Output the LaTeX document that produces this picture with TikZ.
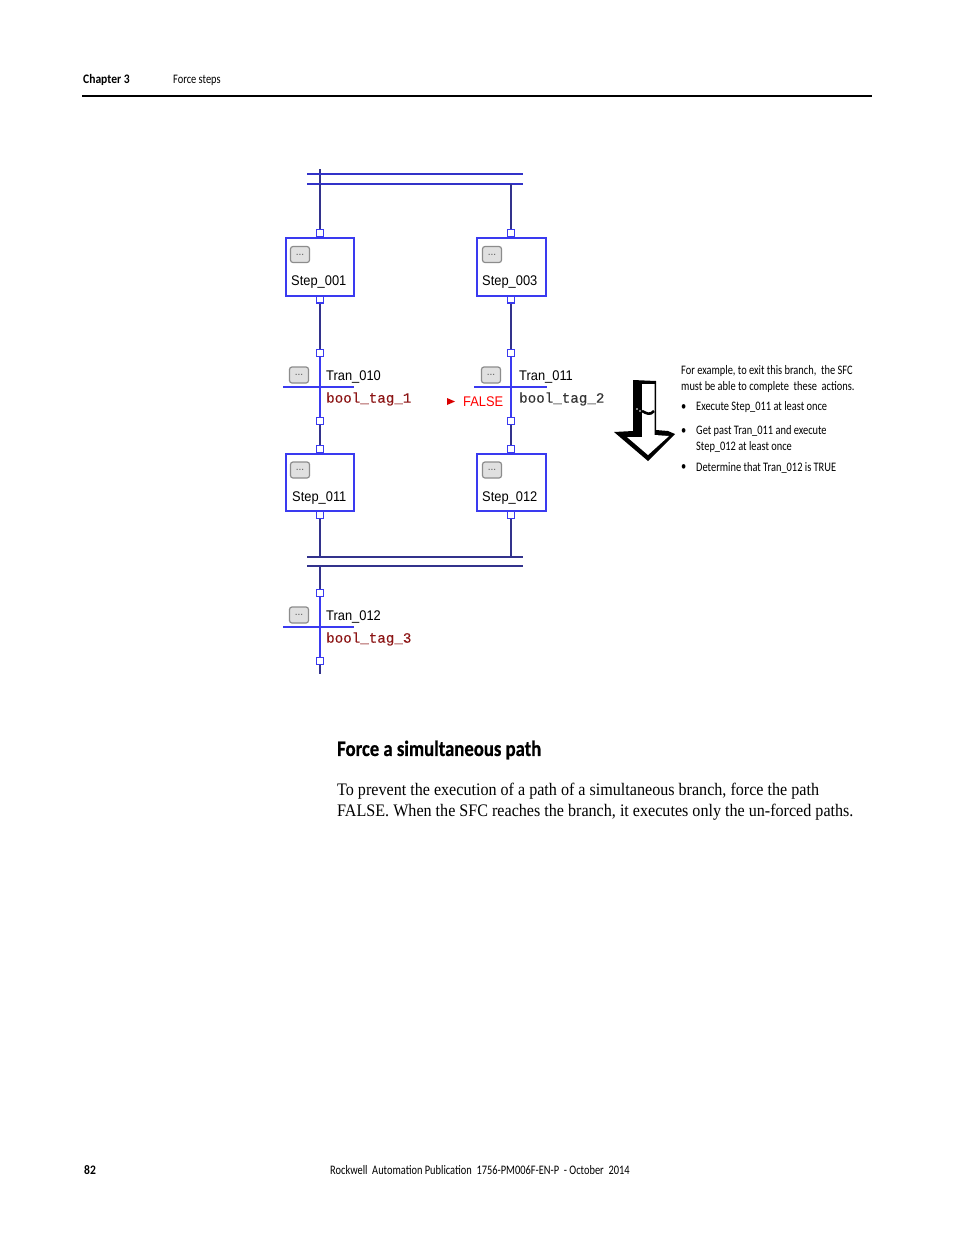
\documentclass[tikz,border=0pt]{standalone}
\usepackage{fontspec}
\setmainfont[FakeStretch=0.915]{Liberation Serif}
\newfontfamily\narrowfont[FakeStretch=0.80]{Carlito}
\newfontfamily\narrowbold[FakeStretch=0.89]{Carlito Bold}
\newfontfamily\headfont[FakeStretch=0.85,FakeBold=0.6]{Carlito Bold}
\newfontfamily\labelfont[FakeStretch=0.92]{Liberation Sans}
\newfontfamily\tagfont[FakeBold=0.2]{Liberation Mono}
\usetikzlibrary{positioning}
\definecolor{sfcblue}{RGB}{58,58,240}
\definecolor{sfcnavy}{RGB}{50,50,140}
\definecolor{barblue}{RGB}{50,50,200}
\definecolor{tagred}{RGB}{140,20,20}
\begin{document}
\begin{tikzpicture}[x=1pt, y=-1pt,
    stepbox/.style={draw=sfcblue, fill=white, line width=1.6pt, minimum width=68.4pt, anchor=north west, inner sep=0pt},
    portbox/.style={draw=sfcblue, fill=white, line width=1.4pt, minimum width=7pt, minimum height=7pt, inner sep=0pt},
    btnbox/.style={draw=black!45, fill=black!12, rounded corners=2.5pt, line width=1.2pt, minimum width=19pt, minimum height=16pt, inner sep=0pt, font=\labelfont\fontsize{11}{11}\selectfont, text=black!65},
    steptext/.style={font=\labelfont\fontsize{14}{14}\selectfont, inner sep=0pt, anchor=west},
    tagtext/.style={font=\tagfont\fontsize{14.2}{14.2}\selectfont, text=tagred, inner sep=0pt, anchor=west},
    sidetext/.style={font=\narrowfont\fontsize{13}{15}\selectfont, inner sep=0pt, anchor=west},
    bodytext/.style={font=\fontsize{17.6}{21}\selectfont, inner sep=0pt, anchor=west},
    bar/.style={draw=sfcblue, line width=1.4pt},
    barnavy/.style={draw=sfcnavy, line width=1.4pt},
    wire/.style={draw=sfcnavy, line width=1.4pt},
    wirelit/.style={draw=sfcblue, line width=1.4pt}
]
\useasboundingbox (0,0) rectangle (954,1235);
\fill[white] (0,0) rectangle (954,1235);

% header
\node[font=\narrowbold\fontsize{13}{13}\selectfont, inner sep=0pt, anchor=west] (chap) at (83,79.5) {Chapter 3};
\node[sidetext] (sect) at (173,80) {Force steps};
\coordinate (ruleL) at (82,96);
\coordinate (ruleR) at (872,96);
\draw[line width=1.4pt] (ruleL) -- (ruleR);

% divergence bars
\coordinate (topL) at (320,169);
\coordinate (b1L) at (307,174);
\coordinate (b1R) at (523,174);
\coordinate (b2L) at (307,184);
\coordinate (b2R) at (523,184);
\coordinate (j1) at (320,184);
\coordinate (j2) at (511,184);
\draw[wire] (topL) -- (j1);
\draw[barnavy, draw=barblue] (b1L) -- (b1R);
\draw[barnavy, draw=barblue] (b2L) -- (b2R);

% steps
\node[stepbox, minimum height=58.4pt] (s1) at (285,237) {};
\node[stepbox, minimum height=58.4pt, minimum width=69.4pt] (s3) at (476,237) {};
\node[stepbox, minimum height=57.4pt] (s11) at (285,453) {};
\node[stepbox, minimum height=57.4pt, minimum width=69.4pt] (s12) at (476,453) {};
\node[steptext] (s1t) at (291,282) {Step\_001};
\node[steptext] (s3t) at (482,282) {Step\_003};
\node[steptext] (s11t) at (292,498) {Step\_011};
\node[steptext] (s12t) at (482,498) {Step\_012};
\node[btnbox] (s1b) at (300,254.5) {...};
\node[btnbox] (s3b) at (492,254.5) {...};
\node[btnbox] (s11b) at (300,470) {...};
\node[btnbox] (s12b) at (492,470) {...};

% ports
\node[portbox] (p1a) at (320,233) {};
\node[portbox] (p1b) at (320,299.5) {};
\node[portbox] (p2a) at (320,353) {};
\node[portbox] (p2b) at (320,421) {};
\node[portbox] (p3a) at (320,449) {};
\node[portbox] (p3b) at (320,515) {};
\node[portbox] (p4a) at (320,593) {};
\node[portbox] (p4b) at (320,661) {};
\node[portbox] (q1a) at (511,233) {};
\node[portbox] (q1b) at (511,299.5) {};
\node[portbox] (q2a) at (511,353) {};
\node[portbox] (q2b) at (511,421) {};
\node[portbox] (q3a) at (511,449) {};
\node[portbox] (q3b) at (511,515) {};

% convergence bars
\coordinate (c1L) at (307,557);
\coordinate (c1R) at (523,557);
\coordinate (c2L) at (307,566);
\coordinate (c2R) at (523,566);
\coordinate (k1) at (320,557);
\coordinate (k2) at (511,557);
\coordinate (k3) at (320,566);
\coordinate (endL) at (320,674);
\draw[barnavy] (c1L) -- (c1R);
\draw[barnavy] (c2L) -- (c2R);

% wires
\draw[wire] (j1) -- (p1a);
\draw[wire] (j2) -- (q1a);
\draw[wire] (p1b) -- (p2a);
\draw[wire] (q1b) -- (q2a);
\draw[wirelit] (p2a) -- (p2b);
\draw[wirelit] (q2a) -- (q2b);
\draw[wire] (p2b) -- (p3a);
\draw[wire] (q2b) -- (q3a);
\draw[wire] (p3b) -- (k1);
\draw[wire] (q3b) -- (k2);
\draw[wire] (k3) -- (p4a);
\draw[wirelit] (p4a) -- (p4b);
\draw[wire] (p4b) -- (endL);

% transitions
\coordinate (t1L) at (283,387);
\coordinate (t1R) at (354,387);
\coordinate (t2L) at (474,387);
\coordinate (t2R) at (547,387);
\coordinate (t3L) at (283,627);
\coordinate (t3R) at (354,627);
\draw[bar] (t1L) -- (t1R);
\draw[bar] (t2L) -- (t2R);
\draw[bar] (t3L) -- (t3R);
\node[btnbox] (t1b) at (299,375) {...};
\node[btnbox] (t2b) at (491,375) {...};
\node[btnbox] (t3b) at (299,615) {...};
\node[steptext] (t1t) at (326,376.5) {Tran\_010};
\node[steptext] (t2t) at (519,376.5) {Tran\_011};
\node[steptext] (t3t) at (326,616.5) {Tran\_012};
\node[tagtext] (tag1) at (326,399) {bool\_tag\_1};
\node[tagtext, text=black!80] (tag2) at (519,399) {bool\_tag\_2};
\node[tagtext] (tag3) at (326,639) {bool\_tag\_3};
\node[steptext, text=red] (force) at (463,402) {FALSE};
\fill[red!85!black] (447,398) -- (455,401.5) -- (447,405) -- cycle;

% big arrow
\fill[black] (633,380) -- (656,381) -- (656,430) -- (668,431) -- (675,434) -- (648,461) -- (614,432) -- (633,431) -- cycle;
\fill[white] (642,384) -- (654.5,384) -- (654.5,435) -- (669,436) -- (648,455) -- (627,437) -- (642,437) -- cycle;
\draw[line width=2.6pt] (642,411) .. controls (646,413) and (650,416) .. (654,411);
\fill[white] (637,409) circle (0.8pt);
\fill[white] (640,411) circle (0.8pt);

% side note
\node[sidetext] (n1) at (681,371.5) {For example, to exit this branch, \ the SFC};
\node[sidetext] (n2) at (681,387.5) {must be able to complete \ these \ actions.};
\node[sidetext] (n3) at (696,407.5) {Execute Step\_011 at least once};
\node[sidetext] (n4) at (696,431.5) {Get past Tran\_011 and execute};
\node[sidetext] (n5) at (696,447.5) {Step\_012 at least once};
\node[sidetext] (n6) at (696,468) {Determine that Tran\_012 is TRUE};
\node[sidetext] (d3) at (681,407.5) {•};
\node[sidetext] (d4) at (681,431.5) {•};
\node[sidetext] (d6) at (681,468) {•};

% section
\node[font=\headfont\fontsize{22}{22}\selectfont, inner sep=0pt, anchor=west] (head) at (337,750) {Force a simultaneous path};
\node[bodytext] (body1) at (337,791) {To prevent the execution of a path of a simultaneous branch, force the path};
\node[bodytext] (body2) at (337,812) {FALSE. When the SFC reaches the branch, it executes only the un-forced paths.};

% footer
\node[font=\narrowbold\fontsize{13}{13}\selectfont, inner sep=0pt, anchor=west] (page) at (84,1170.5) {82};
\node[sidetext] (foot) at (330,1170.5) {Rockwell \ Automation Publication \ 1756-PM006F-EN-P \ - October \ 2014};
\end{tikzpicture}
\end{document}
